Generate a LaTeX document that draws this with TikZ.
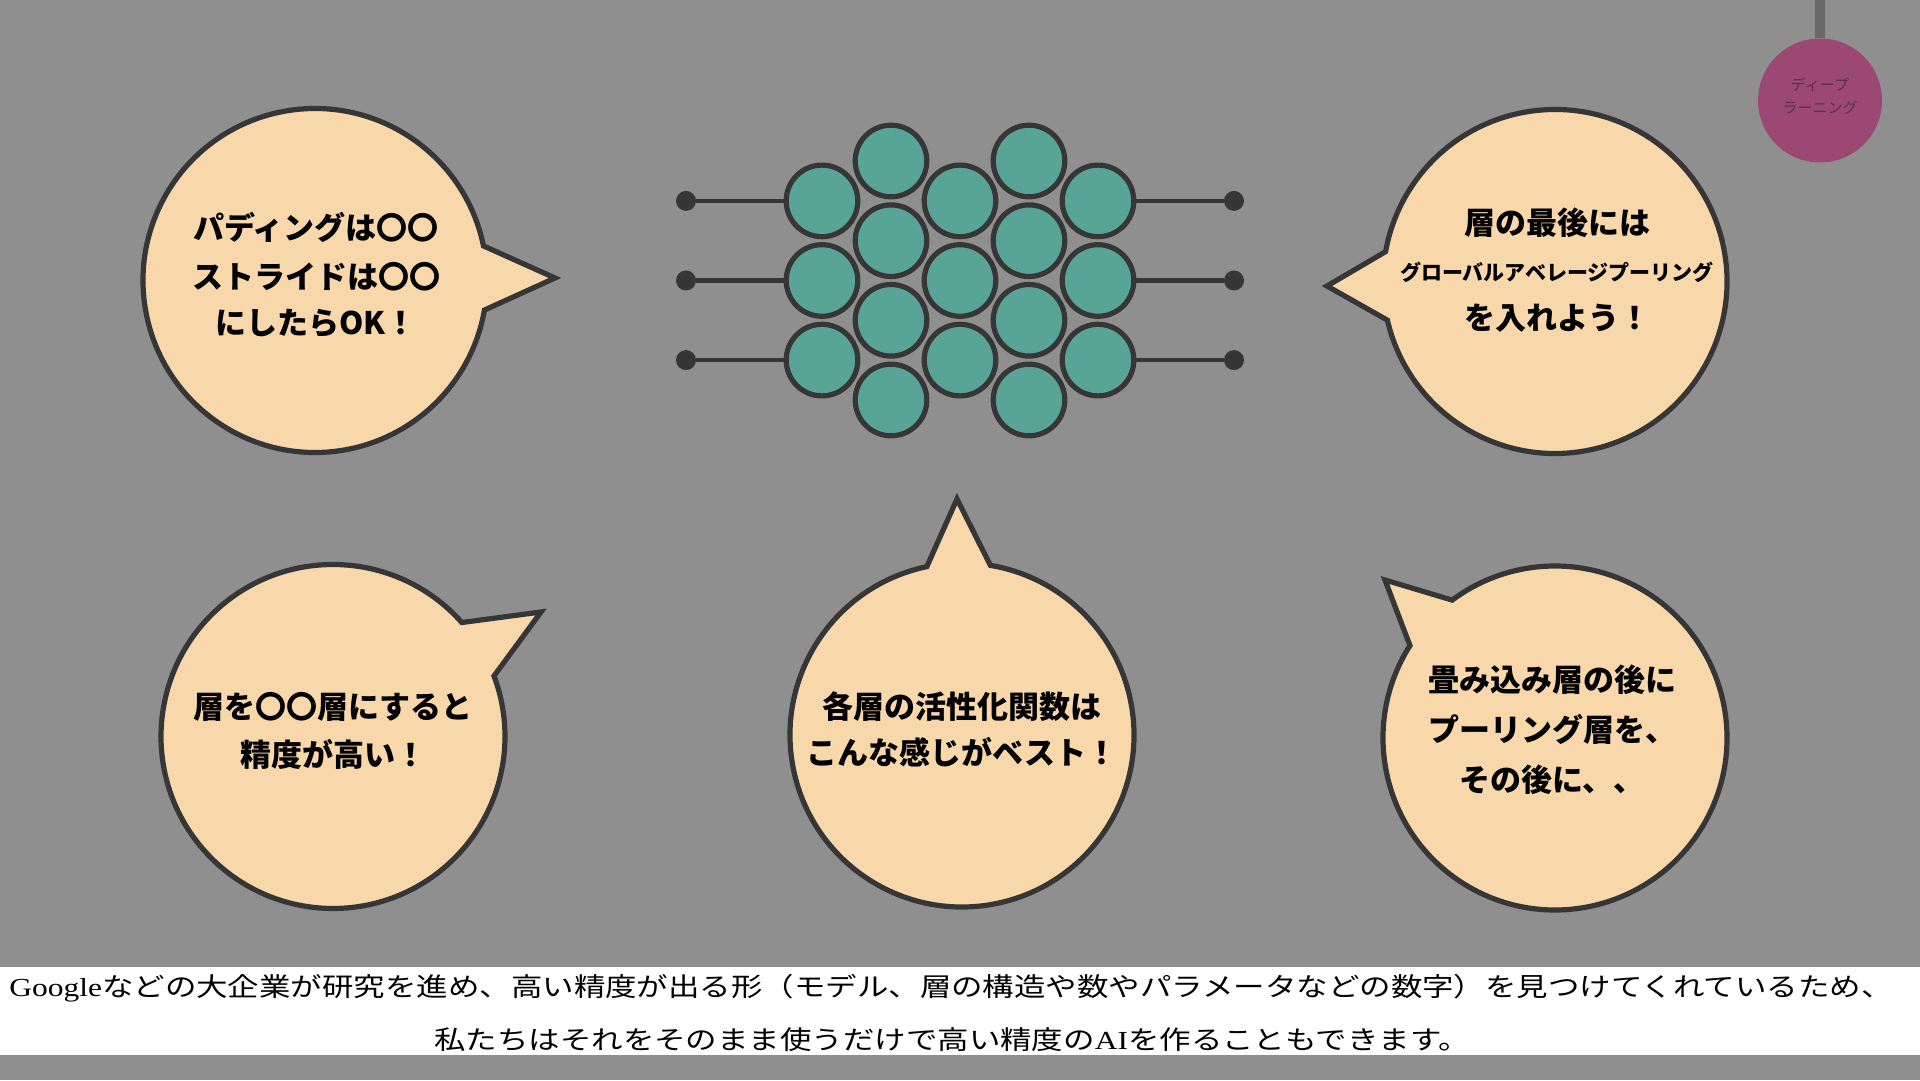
\documentclass[tikz,border=0pt]{standalone}
\usepackage{fontspec}
\usepackage{graphicx}
\newfontfamily\jp{Noto Sans CJK JP}
\newfontfamily\lser{Liberation Serif}
\definecolor{bgc}{HTML}{8F8F8F}
\definecolor{peach}{HTML}{F8D8AA}
\definecolor{outl}{HTML}{363636}
\definecolor{neurfill}{HTML}{58A598}
\definecolor{purp}{HTML}{9B4873}
\definecolor{purptxt}{HTML}{553347}
\definecolor{barc}{HTML}{676767}
\begin{document}
\begin{tikzpicture}[x=1pt,y=1pt,
  bubble/.style={fill=peach, draw=outl, line width=5.2pt, line join=miter},
  btxt/.style={anchor=base, inner sep=0pt, text=black, font=\jp\bfseries\fontsize{31}{37}\selectfont},
  bsmall/.style={btxt, font=\jp\bfseries\fontsize{21}{25}\selectfont},
  neuron/.style={circle, draw=outl, fill=neurfill, line width=5.2pt, minimum size=71.6pt, inner sep=0pt},
  dotn/.style={circle, fill=outl, minimum size=20pt, inner sep=0pt},
  wire/.style={draw=outl, line width=4.5pt},
  btm/.style={anchor=base, inner sep=0pt, text=black, font=\jp\fontsize{26}{30}\selectfont},
  ptxt/.style={anchor=base, inner sep=0pt, text=purptxt, font=\jp\fontsize{15}{18}\selectfont}]
% canvas
\useasboundingbox (0,0) rectangle (1920,1080);
\fill[bgc] (0,0) rectangle (1920,1080);

% ---- speech bubbles ----
\coordinate (cTL) at (315,799.5);
\coordinate (cTR) at (1555,798.5);
\coordinate (cBL) at (333,343.5);
\coordinate (cBC) at (962,345);
\coordinate (cBR) at (1555,342);
\coordinate (tTL) at (555,802);
\coordinate (tTR) at (1327,794);
\coordinate (tBL) at (541,468);
\coordinate (tBC) at (957,581);
\coordinate (tBR) at (1385,500);

\filldraw[bubble] (cTL) ++(11.6:172) arc[start angle=11.6, end angle=350.1, radius=172] -- (tTL) -- cycle;
\filldraw[bubble] (cTR) ++(193:172) arc[start angle=193, end angle=530, radius=172] -- (tTR) -- cycle;
\filldraw[bubble] (cBL) ++(41.5:172) arc[start angle=41.5, end angle=380.6, radius=172] -- (tBL) -- cycle;
\filldraw[bubble] (cBC) ++(101.8:172) arc[start angle=101.8, end angle=440.5, radius=172] -- (tBC) -- cycle;
\filldraw[bubble] (cBR) ++(147.5:172) arc[start angle=147.5, end angle=486.7, radius=172] -- (tBR) -- cycle;

% bubble texts
\node[btxt] (tl1) at (316,840.2) {パディングは〇〇};
\node[btxt] (tl2) at (316,791.2) {ストライドは〇〇};
\node[btxt] (tl3) at (316,745.2) {にしたらOK！};

\node[btxt] (tr1) at (1557,845.2) {層の最後には};
\node[bsmall] (tr2) at (1557,799) {グローバルアベレージプーリング};
\node[btxt] (tr3) at (1557,750.2) {を入れよう！};

\node[btxt] (bl1) at (333,361.2) {層を〇〇層にすると};
\node[btxt] (bl2) at (333,313.2) {精度が高い！};

\node[btxt] (bc1) at (962,361.2) {各層の活性化関数は};
\node[btxt] (bc2) at (962,315.2) {こんな感じがベスト！};

\node[btxt] (br1) at (1552,388.2) {畳み込み層の後に};
\node[btxt] (br2) at (1552,338.2) {プーリング層を、};
\node[btxt] (br3) at (1552,288.2) {その後に、、};

% ---- network ----
\foreach \c/\x in {1/822,3/960,5/1098}
  \foreach \r/\y in {1/879.1,2/799.5,3/719.9}
    \node[neuron] (n\c\r) at (\x,\y) {};
\foreach \c/\x in {2/891,4/1029}
  \foreach \r/\y in {1/919,2/839.3,3/759.7,4/680}
    \node[neuron] (n\c\r) at (\x,\y) {};
\foreach \r/\y in {1/879.1,2/799.5,3/719.9}{
  \node[dotn] (l\r) at (686,\y) {};
  \node[dotn] (r\r) at (1234,\y) {};
  \draw[wire] (l\r) -- (n1\r);
  \draw[wire] (n5\r) -- (r\r);
}

% ---- top-right badge ----
\coordinate (bartop) at (1820,1080);
\node[circle, fill=purp, minimum size=124pt, inner sep=0pt] (pc) at (1820,979.5) {};
\draw[barc, line width=10pt] (bartop) -- (pc);
\node[ptxt] (p1) at (1820,989.3) {ディープ};
\node[ptxt] (p2) at (1820,966.3) {ラーニング};

% ---- bottom caption ----
\fill[white] (0,25) rectangle (1920,113);
\node[btm] (cap1) at (951,83.1) {\scalebox{1.21}[1]{{\lser Google}などの大企業が研究を進め、高い精度が出る形（モデル、層の構造や数やパラメータなどの数字）を見つけてくれているため、}};
\node[btm] (cap2) at (952,30.1) {\scalebox{1.21}[1]{私たちはそれをそのまま使うだけで高い精度の{\lser AI}を作ることもできます。}};
\end{tikzpicture}
\end{document}
